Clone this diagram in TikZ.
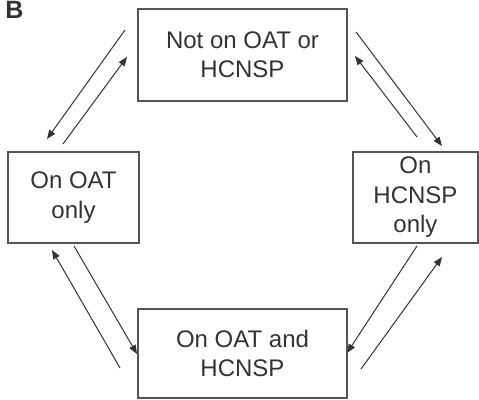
\documentclass[tikz,border=0pt]{standalone}
\usepackage{fontspec}
\setmainfont{Liberation Sans}
\usetikzlibrary{arrows.meta}
\definecolor{ink}{HTML}{333333}
\definecolor{frame}{HTML}{555555}
\tikzset{
  state/.style={
    draw=frame,
    line width=0.75pt,
    align=center,
    text=ink,
    inner sep=0pt,
    font=\fontsize{12}{14.7}\selectfont,
  },
  flow/.style={draw=ink, line width=0.5pt, -{Triangle[length=4.5pt,width=3.5pt]}},
}
\begin{document}
\begin{tikzpicture}[x=0.5pt,y=-0.5pt]
  \useasboundingbox (0,0) rectangle (479,400);
  \node[font=\bfseries\fontsize{12.5}{14}\selectfont, text=ink, anchor=base west, inner sep=0pt] (panel) at (5,19) {B};

  % states
  \node[state, minimum width=104.5pt, minimum height=46pt] (neither) at (242.5,55) {Not on OAT or\\HCNSP};
  \node[state, minimum width=65.5pt, minimum height=45.5pt] (oat) at (73.5,197.5) {On OAT\\only};
  \node[state, minimum width=62.5pt, minimum height=45.5pt] (hcnsp) at (415.5,197.5) {On\\HCNSP\\only};
  \node[state, minimum width=104.5pt, minimum height=44.5pt] (both) at (242.5,353.5) {On OAT and\\HCNSP};

  % transitions
  \coordinate (n-o1) at (125,30);  \coordinate (n-o2) at (47,139);
  \coordinate (o-n1) at (63,144);  \coordinate (o-n2) at (127,57);
  \coordinate (n-h1) at (356,32);  \coordinate (n-h2) at (442,146);
  \coordinate (h-n1) at (417,137); \coordinate (h-n2) at (355,56);
  \coordinate (o-b1) at (74,246);  \coordinate (o-b2) at (137,354);
  \coordinate (b-o1) at (120,368); \coordinate (b-o2) at (52,250);
  \coordinate (h-b1) at (417,246); \coordinate (h-b2) at (347,353);
  \coordinate (b-h1) at (361,369); \coordinate (b-h2) at (442,257);

  \foreach \t in {n-o,o-n,n-h,h-n,o-b,b-o,h-b,b-h}
    \draw[flow] (\t1) -- (\t2);
\end{tikzpicture}
\end{document}
